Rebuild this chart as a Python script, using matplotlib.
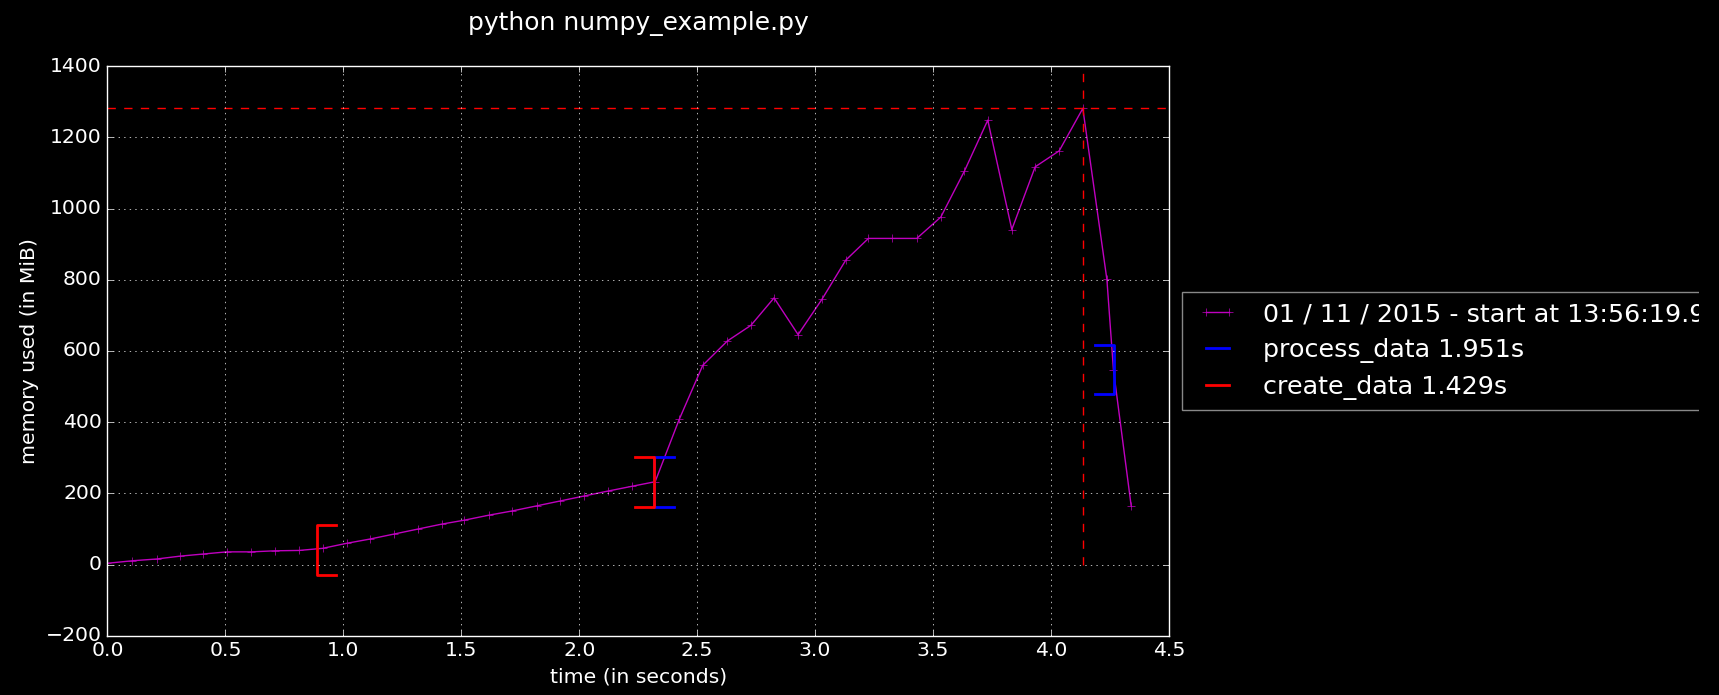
import matplotlib
matplotlib.use("Agg")
import matplotlib.pyplot as plt
from matplotlib.patches import Rectangle
from matplotlib.lines import Line2D
from matplotlib.legend_handler import HandlerLine2D
import numpy as np

# mprof plot, dark background
t = [0.0, 0.106, 0.209, 0.308, 0.407, 0.506, 0.609, 0.711, 0.813, 0.913,
     1.014, 1.113, 1.215, 1.316, 1.418, 1.513, 1.617, 1.717, 1.819, 1.920,
     2.022, 2.124, 2.223, 2.322, 2.424, 2.524, 2.628, 2.728, 2.826, 2.928,
     3.029, 3.130, 3.226, 3.328, 3.431, 3.533, 3.633, 3.732, 3.834, 3.933,
     4.035, 4.135, 4.237, 4.265, 4.340]
mem = [4, 11, 16, 24, 30, 36, 36, 39, 40, 46,
       60, 72, 86, 100, 114, 125, 139, 151, 165, 179,
       193, 207, 220, 233, 408, 560, 628, 672, 749, 646,
       745, 855, 916, 916, 916, 976, 1105, 1248, 941, 1117,
       1162, 1281, 801, 546, 165]

mem_label = "01 / 11 / 2015 - start at 13:56:19.9"

# functions: start / end time, memory at start / end
func_start = [2.319, 0.887]
func_end = [4.269, 2.319]
func_mem_start = [232, 41]
func_mem_end = [548, 232]
func_labels = ["process_data 1.951s", "create_data 1.429s"]
func_colors = ["b", "r"]

plt.style.use("classic")
plt.rcParams.update({
    "figure.facecolor": "black",
    "savefig.facecolor": "black",
    "axes.facecolor": "black",
    "axes.edgecolor": "white",
    "axes.labelcolor": "white",
    "text.color": "white",
    "xtick.color": "white",
    "ytick.color": "white",
    "grid.color": "white",
    "font.family": "DejaVu Sans",
    "font.size": 14.7,
    "legend.fontsize": 18.3,
})

fig = plt.figure(figsize=(17.19, 6.95), dpi=100)
ax = fig.add_axes([0.0625, 0.085, 0.6175, 0.82])

ax.plot(t, mem, "+-", color="m", label=mem_label)

# brackets at start / end of each function
hsize = 0.082
vsize = 70
bx = np.array([hsize, 0, 0, hsize])
by = np.array([vsize, vsize, -vsize, -vsize])
for x0, x1, y0, y1, lab, c in zip(func_start, func_end, func_mem_start,
                                  func_mem_end, func_labels, func_colors):
    ax.plot(bx + x0, by + y0, "-" + c, linewidth=2, label=lab)
    ax.plot(-bx + x1, by + y1, "-" + c, linewidth=2)

imax = int(np.argmax(mem))
ax.axhline(mem[imax], color="r", linestyle="--")
ax.vlines(t[imax], 0, 1400, colors="r", linestyles="--")

ax.set_xlim(0, 4.5)
ax.set_ylim(-200, 1400)
ax.grid(True)
ax.set_xlabel("time (in seconds)")
ax.set_ylabel("memory used (in MiB)")
ax.set_title("python numpy_example.py", fontsize=18, pad=26)

ax.legend(loc="center left", bbox_to_anchor=(1, 0.5), labelspacing=0.47,
          handlelength=1.77, handletextpad=1.02, edgecolor="#888888",
          handler_map={Line2D: HandlerLine2D(xpad=0.24)})

# original image is cut at the right edge, through the legend
fig.patches.append(Rectangle((1699 / 1719, 0), 1, 1, transform=fig.transFigure,
                             facecolor="black", edgecolor="none", zorder=10))

fig.savefig("out.png", dpi=100, facecolor="black")
